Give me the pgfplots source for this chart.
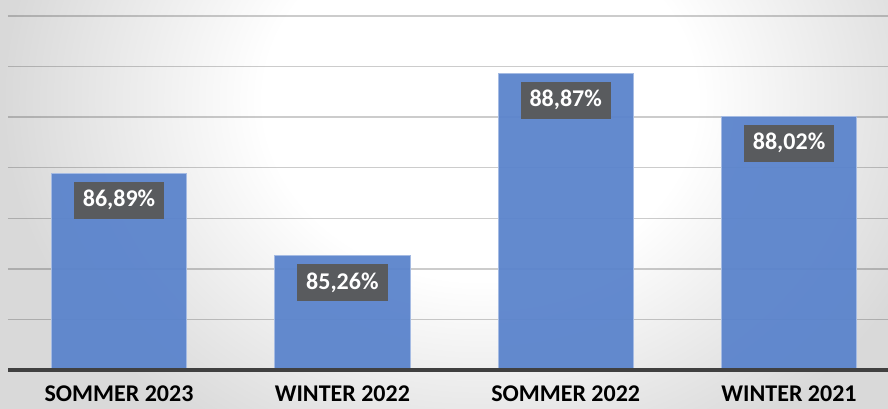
\documentclass[border=0pt]{standalone}
\usepackage{fontspec}
\setmainfont{Carlito}
\usepackage{pgfplots}
\pgfplotsset{compat=1.18}
\definecolor{barblue}{HTML}{5B84CC}
\definecolor{lblgray}{HTML}{595959}
\definecolor{basedark}{HTML}{404040}
\pgfdeclareradialshading{bgshade}{\pgfpoint{0bp}{0bp}}{color(0bp)=(white); color(9bp)=(white); color(20bp)=(black!15); color(50bp)=(black!15)}
\begin{document}
\begin{tikzpicture}
\begin{scope}
\clip (0,0) rectangle (666pt,306.75pt);
\fill[black!15] (0,0) rectangle (666pt,306.75pt);
\shade[shading=bgshade] (360pt,231.75pt) ellipse [x radius=450pt, y radius=375pt];
\end{scope}
\begin{axis}[
  at={(6pt,29.25pt)}, anchor=south west,
  scale only axis, width=660pt, height=277.5pt,
  xmin=-0.497, xmax=3.443, ymin=83, ymax=90.316,
  axis line style={draw=none},
  major tick length=0pt,
  ytick={84,85,86,87,88,89,90}, yticklabels={},
  ymajorgrids, grid style={black, draw opacity=0.2, line width=1.1pt},
  xtick={0,1,2,3},
  xticklabels={SOMMER 2023, WINTER 2022, SOMMER 2022, WINTER 2021},
  xticklabel style={font=\bfseries\fontsize{18}{21}\selectfont, text=black, anchor=base, yshift=-24pt},
  ybar, bar width=0.605,
  point meta=explicit symbolic,
  nodes near coords,
  nodes near coords style={anchor=north, yshift=-6pt, fill=lblgray, text=white,
     font=\bfseries\fontsize{18}{21}\selectfont, inner xsep=6.75pt, inner ysep=0pt,
     minimum height=27.75pt},
]
\addplot[fill=barblue, fill opacity=0.95, text opacity=1, draw=barblue!55!white, line width=0.6pt]
  coordinates {(0,86.89) [86,89\%] (1,85.26) [85,26\%] (2,88.87) [88,87\%] (3,88.02) [88,02\%]};
\end{axis}
\draw[basedark, line width=2.6pt] (6pt,29.25pt) -- (666pt,29.25pt);
\pgfresetboundingbox
\useasboundingbox (0,0) rectangle (666pt,306.75pt);
\end{tikzpicture}
\end{document}
